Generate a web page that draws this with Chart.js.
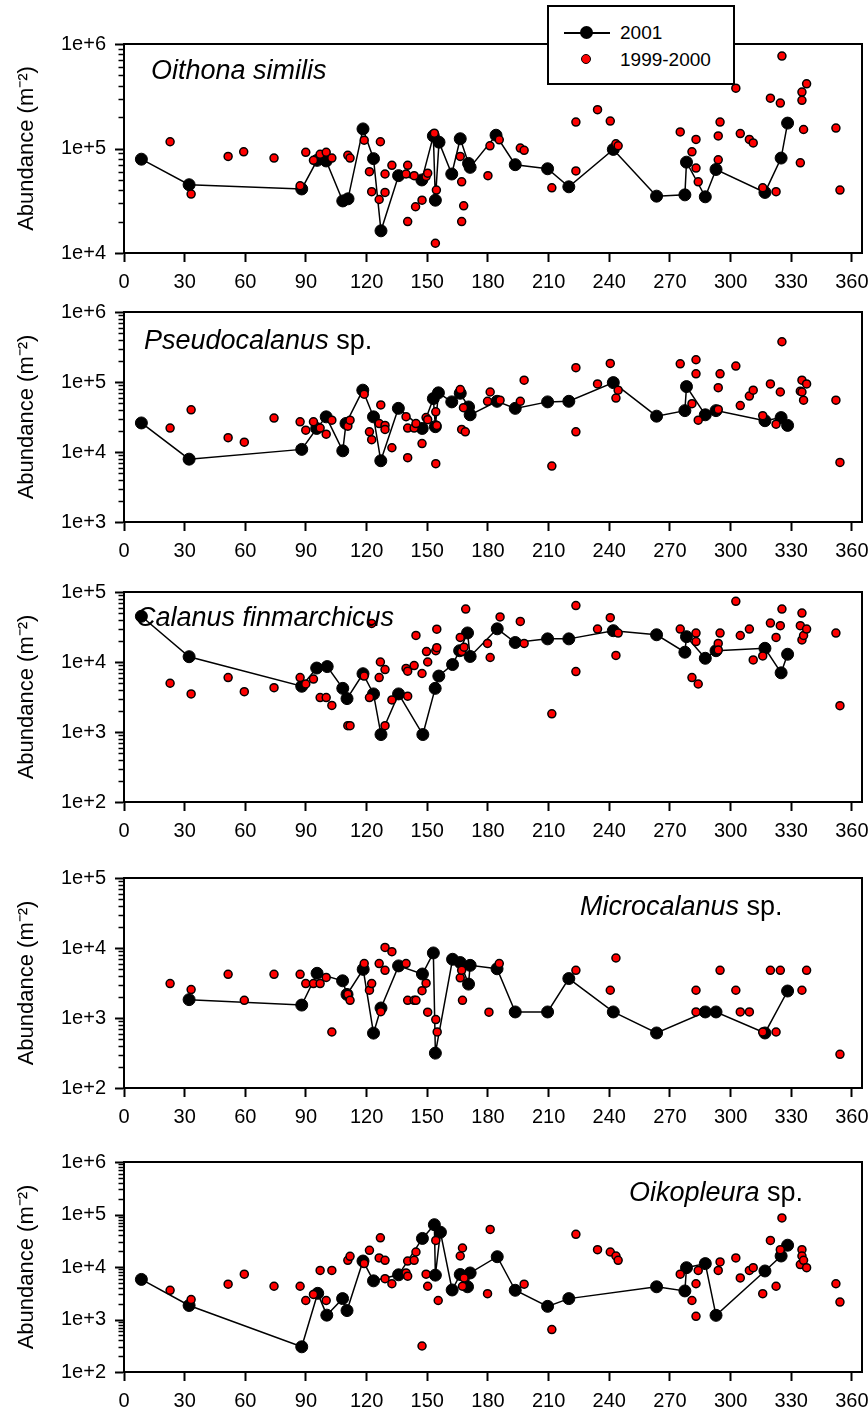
<!DOCTYPE html>
<html>
<head>
<meta charset="utf-8">
<script src="https://cdn.jsdelivr.net/npm/chart.js@4.4.1/dist/chart.umd.min.js"></script>
<style>
  html, body { margin: 0; padding: 0; background: #fff; }
  #wrap { position: relative; width: 868px; height: 1411px; overflow: hidden; font-family: Arial, "Liberation Sans", sans-serif; color: #000; }
  #wrap canvas { position: absolute; left: 0; }
  .species { position: absolute; font-size: 27px; line-height: 27px; white-space: nowrap; }
  .species i { font-style: italic; }
  .lg { position: absolute; }
</style>
</head>
<body>
<div id="wrap">
  <div class="species" style="left:151px;top:57px"><i>Oithona similis</i></div>
  <div class="species" style="left:144px;top:327px"><i>Pseudocalanus</i> sp.</div>
  <div class="species" style="left:136px;top:604px"><i>Calanus finmarchicus</i></div>
  <div class="species" style="left:580px;top:893px"><i>Microcalanus</i> sp.</div>
  <div class="species" style="left:629px;top:1179px"><i>Oikopleura</i> sp.</div>

  <!-- legend -->
  <div class="lg" style="left:547px;top:5px;width:184px;height:76px;border:2px solid #000;background:#fff"></div>
  <div class="lg" style="left:564px;top:32px;width:46px;height:1.5px;background:#000"></div>
  <div class="lg" style="left:579.5px;top:26px;width:13px;height:13px;border-radius:50%;background:#000"></div>
  <div class="lg" style="left:620px;top:23px;font-size:19px;line-height:19px">2001</div>
  <div class="lg" style="left:580.5px;top:53.5px;width:8px;height:8px;border-radius:50%;background:#ff0000;border:1.5px solid #000"></div>
  <div class="lg" style="left:620px;top:50px;font-size:19px;line-height:19px">1999-2000</div>
</div>
<script>
// day of year ticks
const xTicks = [0, 30, 60, 90, 120, 150, 180, 210, 240, 270, 300, 330, 360];

// Oithona similis
const oithonaRange = [1e4, 1e6];
const oithonaDays01 = [8.6, 32.2, 87.9, 95.5, 100, 108.2, 110.8, 118.2, 123.4, 127.1, 135.8, 147.3, 153, 154, 155.8, 162.1, 166.3, 170.4, 171.2, 184, 193.5, 209.5, 220, 242, 263.4, 277.4, 278.2, 287.5, 292.8, 317, 325, 328.2];
const oithonaAbund01 = [79000, 45000, 41000, 77000, 76000, 31500, 33000, 154000, 80000, 16300, 55000, 50000, 132000, 32000, 115000, 57000, 124000, 72000, 66000, 134000, 70000, 64000, 43000, 98000, 35000, 36000, 74000, 34500, 63000, 38000, 81000, 175000];
const oithonaDays99 = [22.8, 33.2, 51.5, 59.2, 74.2, 87.1, 89.9, 93.7, 97, 100, 102.8, 110.7, 111.8, 118.8, 121.4, 122.5, 126.2, 126.8, 129.1, 129.1, 132.5, 139.5, 140.3, 140.3, 143.5, 144.2, 147.4, 149.4, 150.2, 153.5, 154.5, 154, 166.3, 167, 168, 167, 180, 181, 185.6, 196, 197.9, 211.6, 223.5, 223.5, 234.2, 240.5, 243.3, 244.4, 275.1, 280.9, 282.9, 282.9, 284, 293.9, 294.8, 293.9, 302.6, 304.8, 309.3, 311.2, 315.9, 319.7, 322.5, 324.6, 325.4, 334.5, 335.3, 335.3, 337.6, 336.1, 352.1, 354.1];
const oithonaAbund99 = [116000, 36600, 84000, 93000, 81000, 44000, 92000, 77000, 88000, 92000, 81000, 86000, 81000, 120000, 60000, 38600, 32500, 116000, 57000, 38000, 69000, 57000, 69000, 20000, 55000, 27700, 32000, 54000, 58000, 140000, 40000, 12400, 84000, 48000, 28300, 20000, 55000, 106000, 121000, 101000, 96000, 42000, 179000, 61000, 235000, 183000, 111000, 106000, 144000, 93000, 122000, 65000, 48000, 132000, 179000, 78000, 378000, 139000, 122000, 113000, 42000, 303000, 38600, 272000, 766000, 73000, 347000, 289000, 416000, 152000, 157000, 40000];

// Pseudocalanus sp.
const pseudoRange = [1e3, 1e6];
const pseudoDays01 = [8.6, 32.2, 87.9, 95.3, 100, 108.2, 109.8, 118.1, 123.4, 127, 135.7, 147.5, 153, 154, 155.5, 162.1, 166.3, 170.4, 171.2, 184.5, 193.5, 209.5, 220, 242, 263.4, 277.4, 278.2, 287.5, 292.8, 317, 325, 328.2];
const pseudoAbund01 = [26000, 7900, 10900, 21700, 31800, 10400, 25600, 76500, 31800, 7500, 42000, 21700, 58000, 23000, 70000, 52000, 69000, 44000, 34000, 53000, 42000, 52000, 53000, 98000, 32500, 39000, 86000, 34000, 39000, 28000, 31000, 24000];
const pseudoDays99 = [22.8, 33.2, 51.5, 59.5, 74.2, 87.1, 89.9, 93.7, 97, 100, 102.8, 110.7, 111.8, 118.8, 121.4, 122.5, 126.2, 127, 129.1, 129.1, 132.5, 139.5, 140.3, 140.3, 143.5, 144.4, 147.4, 149.4, 150.2, 154.2, 154.7, 154.2, 166.3, 167.9, 167, 168.8, 179.8, 181.1, 186, 196, 197.9, 211.6, 223.5, 223.5, 234.2, 240.5, 243.3, 244.4, 275.1, 280.9, 282.9, 282.9, 284, 293.9, 294.8, 293.9, 302.6, 304.8, 309.3, 311.2, 315.9, 319.7, 322.5, 324.6, 325.4, 334.5, 335.3, 335.3, 337.6, 336.1, 352.1, 354.1];
const pseudoAbund99 = [22000, 40000, 16000, 13800, 30500, 27000, 20500, 27000, 22000, 18000, 28500, 23400, 28500, 67000, 19400, 15000, 25500, 47000, 24000, 21000, 11500, 32000, 22000, 8300, 22000, 25500, 13200, 31000, 29000, 37500, 24000, 6800, 78000, 43000, 21000, 19400, 53000, 72000, 55000, 53000, 106000, 6300, 160000, 19400, 94000, 184000, 59000, 76500, 182000, 49000, 208000, 131000, 28500, 83000, 131000, 40500, 169000, 46000, 63000, 76500, 33000, 94000, 25000, 72000, 376000, 74000, 106000, 72000, 94000, 55000, 55000, 7100];

// Calanus finmarchicus
const calanusRange = [1e2, 1e5];
const calanusDays01 = [8.6, 32.2, 87.9, 95.3, 100.5, 108.2, 110.3, 118.2, 123.4, 127.1, 135.8, 147.8, 153.9, 155.7, 162.5, 166, 169.9, 171.2, 184.6, 193.5, 209.5, 220, 242, 263.4, 277.4, 278.2, 287.5, 292.8, 317, 325, 328.2];
const calanusAbund01 = [45000, 11900, 4500, 8200, 8600, 4200, 3000, 6800, 3500, 920, 3500, 920, 4200, 6300, 9200, 14500, 26000, 12000, 29800, 19000, 21400, 21400, 28000, 24500, 13800, 23000, 11300, 14500, 15700, 7000, 12900];
const calanusDays99 = [22.8, 33.2, 51.5, 59.5, 74.2, 87.1, 89.9, 93.7, 97, 100, 102.8, 110.7, 111.8, 118.8, 121.4, 122.5, 126.2, 126.8, 129.1, 129.1, 132.5, 139.5, 140.3, 140.3, 143.5, 144.4, 147.4, 149.6, 150.2, 154.2, 154.7, 154.7, 166.3, 167, 168.2, 169, 179.8, 181.1, 186, 196, 197.9, 211.6, 223.5, 223.5, 234.2, 240.5, 243.3, 244.4, 275.1, 280.9, 282.9, 282.9, 284, 293.9, 294.8, 293.9, 302.6, 304.8, 309.3, 311.2, 315.9, 319.7, 322.5, 324.6, 325.4, 334.5, 335.3, 335.3, 336.1, 337.6, 352.1, 354.1];
const calanusAbund99 = [4970, 3500, 6000, 3770, 4300, 6000, 4850, 5700, 3100, 3100, 2400, 1230, 1230, 6300, 3100, 35500, 6000, 10000, 7800, 1230, 2870, 8100, 7400, 3250, 8900, 24000, 6850, 14100, 10000, 14500, 29400, 16000, 22400, 14100, 16300, 57000, 18400, 11600, 44000, 38000, 18400, 1820, 64000, 7300, 29500, 43000, 12400, 25900, 29500, 6000, 25900, 19600, 4850, 18400, 25900, 14900, 73500, 23900, 29500, 10700, 12200, 36000, 22400, 33000, 57000, 33000, 50000, 20700, 23900, 29500, 25900, 2380];

// Microcalanus sp.
const microRange = [1e2, 1e5];
const microDays01 = [32.2, 87.9, 95.5, 108.1, 110.3, 118.3, 123.4, 127.1, 135.8, 147.6, 153, 154, 162.5, 166.3, 170.4, 171.2, 184.5, 193.5, 209.5, 220, 242, 263.4, 287.5, 292.8, 317, 328.2];
const microAbund01 = [1830, 1530, 4350, 3400, 2170, 4950, 608, 1390, 5550, 4250, 8500, 315, 6900, 6200, 3050, 5650, 5050, 1220, 1220, 3660, 1220, 611, 1220, 1220, 611, 2430];
const microDays99 = [22.8, 33.2, 51.5, 59.5, 74.2, 87.1, 89.9, 93.7, 97, 100, 102.8, 110.7, 111.8, 118.8, 121.4, 122.5, 126.2, 127, 129.1, 129.1, 132.5, 139.5, 140.3, 143.5, 144.4, 147.4, 149.4, 150.2, 154.2, 154.9, 166.3, 167, 167.4, 180.5, 185.6, 223.5, 240.5, 243.3, 282.9, 282.9, 294.8, 302.6, 304.8, 309.3, 315.9, 319.7, 322.5, 324.6, 335.3, 337.6, 354.1];
const microAbund99 = [3100, 2550, 4200, 1790, 4200, 4200, 3100, 3100, 3100, 3800, 631, 2180, 1790, 6000, 2500, 3100, 6000, 1230, 10200, 4800, 8850, 6000, 1790, 1790, 1790, 2460, 3140, 1210, 950, 633, 3750, 4800, 1790, 1210, 6000, 4800, 2490, 7200, 2490, 1220, 4800, 2490, 1220, 1220, 631, 4800, 631, 4800, 2490, 4800, 303];

// Oikopleura sp.
const oikoRange = [1e2, 1e6];
const oikoDays01 = [8.6, 32.2, 87.9, 95.8, 100.3, 108.1, 110.3, 118.2, 123.4, 135.8, 147.6, 153.5, 154, 156.5, 162.3, 166.3, 169.9, 171.2, 184.6, 193.5, 209.5, 220, 263.4, 277.4, 278.2, 287.5, 292.8, 317, 325, 328.2];
const oikoAbund01 = [5800, 1850, 302, 3150, 1210, 2500, 1480, 13000, 5450, 7100, 35000, 64000, 7000, 46000, 3650, 7200, 4200, 7700, 15700, 3600, 1780, 2500, 4200, 3500, 9700, 11600, 1200, 8400, 16200, 26000];
const oikoDays99 = [22.8, 33.2, 51.5, 59.5, 74.2, 87.1, 89.9, 93.7, 97, 100, 102.8, 110.7, 111.8, 118.8, 121.4, 126.2, 126.8, 129.1, 129.1, 132.5, 139.5, 140.3, 140.3, 143.5, 144.4, 147.4, 149.4, 150.2, 154.2, 155.4, 166.3, 167.4, 168.2, 167.4, 179.8, 181.1, 197.9, 211.6, 223.5, 234.2, 240.5, 243.3, 244.4, 275.1, 280.9, 282.9, 282.9, 284, 293.9, 294.8, 302.6, 304.8, 309.3, 311.2, 315.9, 319.7, 322.5, 324.6, 325.4, 334.5, 335.3, 335.3, 336.1, 337.6, 352.1, 354.1];
const oikoAbund99 = [3600, 2400, 4700, 7300, 4300, 4300, 2300, 3000, 8600, 2300, 8600, 13400, 16000, 11600, 20800, 14900, 36000, 13400, 6000, 4800, 7700, 13000, 6700, 13400, 19300, 313, 7300, 4300, 32000, 2300, 16200, 23000, 6200, 4300, 3100, 52000, 4700, 643, 42000, 21400, 19300, 16200, 13400, 7300, 2300, 4800, 1150, 8600, 8600, 12500, 14900, 6200, 8600, 9700, 3100, 32000, 4300, 21400, 86000, 11100, 21400, 16200, 13400, 9700, 4800, 2150];

const panels = [
  { top: 44, bottom: 253, range: oithonaRange, d01: oithonaDays01, v01: oithonaAbund01, d99: oithonaDays99, v99: oithonaAbund99 },
  { top: 312, bottom: 522, range: pseudoRange, d01: pseudoDays01, v01: pseudoAbund01, d99: pseudoDays99, v99: pseudoAbund99 },
  { top: 592, bottom: 802, range: calanusRange, d01: calanusDays01, v01: calanusAbund01, d99: calanusDays99, v99: calanusAbund99 },
  { top: 878, bottom: 1088, range: microRange, d01: microDays01, v01: microAbund01, d99: microDays99, v99: microAbund99 },
  { top: 1162, bottom: 1372, range: oikoRange, d01: oikoDays01, v01: oikoAbund01, d99: oikoDays99, v99: oikoAbund99 }
];

Chart.defaults.font.family = 'Arial, "Liberation Sans", sans-serif';
Chart.defaults.color = '#000';

const isDecade = v => Math.abs(Math.log10(v) - Math.round(Math.log10(v))) < 1e-6;

// 1..9 x 10^n ticks over the range
function logTicks(min, max) {
  const out = [];
  for (let e = Math.round(Math.log10(min)); e < Math.round(Math.log10(max)); e++) {
    for (let m = 1; m < 10; m++) out.push(m * Math.pow(10, e));
  }
  out.push(max);
  return out;
}

// box around the plot + outward y ticks (long for decades, short for the rest)
const framePlugin = {
  id: 'frame',
  afterDraw(chart) {
    const { ctx, chartArea: a } = chart;
    const y = chart.scales.y;
    ctx.save();
    ctx.strokeStyle = '#000';
    ctx.lineWidth = 2;
    ctx.strokeRect(a.left, a.top, a.right - a.left, a.bottom - a.top);
    y.ticks.forEach(t => {
      const py = Math.round(y.getPixelForValue(t.value)) + 0.5;
      const major = isDecade(t.value);
      ctx.lineWidth = major ? 2 : 1.5;
      ctx.beginPath();
      ctx.moveTo(a.left - 1, py);
      ctx.lineTo(a.left - (major ? 9 : 5.5), py);
      ctx.stroke();
    });
    ctx.restore();
  }
};

const wrap = document.getElementById('wrap');
const firstText = wrap.firstChild;

panels.forEach(p => {
  const padTop = 16, xAxisH = 46;
  const canvas = document.createElement('canvas');
  canvas.width = 880;
  canvas.height = (p.bottom - p.top) + padTop + xAxisH;
  canvas.style.top = (p.top - padTop) + 'px';
  wrap.insertBefore(canvas, firstText);

  const pts01 = p.d01.map((d, i) => ({ x: d, y: p.v01[i] }));
  const pts99 = p.d99.map((d, i) => ({ x: d, y: p.v99[i] }));

  new Chart(canvas, {
    type: 'scatter',
    data: {
      datasets: [
        {
          label: '2001', data: pts01, showLine: true, order: 1,
          borderColor: '#000', borderWidth: 1.5, tension: 0,
          pointRadius: 6, pointBackgroundColor: '#000', pointBorderColor: '#000', pointBorderWidth: 1
        },
        {
          label: '1999-2000', data: pts99, showLine: false, order: 0,
          pointRadius: 4, pointBackgroundColor: '#ff0000', pointBorderColor: '#000', pointBorderWidth: 1.5
        }
      ]
    },
    options: {
      responsive: false,
      animation: false,
      devicePixelRatio: 1,
      layout: { padding: { top: padTop, right: 880 - 862, bottom: 0, left: 0 } },
      plugins: { legend: { display: false }, tooltip: { enabled: false } },
      scales: {
        x: {
          type: 'linear', min: 0, max: 365,
          afterBuildTicks: s => { s.ticks = xTicks.map(v => ({ value: v })); },
          afterFit: s => { s.height = xAxisH; s.paddingLeft = 0; s.paddingRight = 0; },
          ticks: { font: { size: 20 }, color: '#000', padding: 8, autoSkip: false, maxRotation: 0 },
          grid: { display: true, drawOnChartArea: false, drawTicks: true, tickLength: 9, tickWidth: 2, tickColor: '#000' },
          border: { display: true, color: '#000', width: 2 }
        },
        y: {
          type: 'logarithmic', min: p.range[0], max: p.range[1],
          afterBuildTicks: s => { s.ticks = logTicks(p.range[0], p.range[1]).map(v => ({ value: v })); },
          afterFit: s => { s.width = 124; s.paddingTop = 0; s.paddingBottom = 0; },
          ticks: {
            font: { size: 20 }, color: '#000', padding: 10, autoSkip: false,
            callback: v => isDecade(v) ? '1e+' + Math.round(Math.log10(v)) : ''
          },
          grid: { display: false },
          border: { display: true, color: '#000', width: 2 },
          title: { display: true, text: 'Abundance (m⁻²)', font: { size: 22 }, color: '#000', padding: { top: 14, bottom: 0 } }
        }
      }
    },
    plugins: [framePlugin]
  });
});
</script>
</body>
</html>
